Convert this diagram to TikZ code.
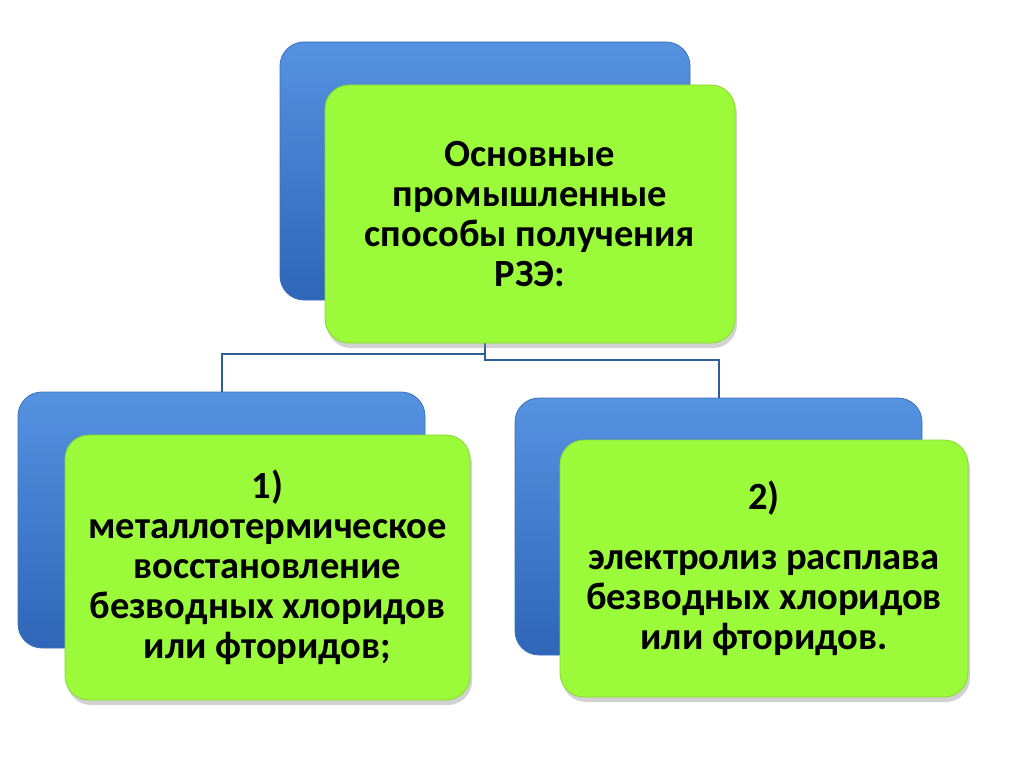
\documentclass[tikz,border=0pt]{standalone}
\usepackage{fontspec}
\setmainfont{Carlito}
\usetikzlibrary{shadows}
\definecolor{bluetop}{HTML}{5592E0}
\definecolor{bluebot}{HTML}{2F66B8}
\definecolor{blueedge}{HTML}{3A70BE}
\definecolor{limefill}{HTML}{9BFA3A}
\definecolor{limeedge}{HTML}{86D92E}
\definecolor{linkcol}{HTML}{2E5C98}
\tikzset{
  backbox/.style={draw=blueedge, line width=0.8pt, rounded corners=24pt,
    top color=bluetop, bottom color=bluebot, minimum width=#1},
  frontbox/.style={draw=limeedge, line width=0.8pt, rounded corners=24pt,
    fill=limefill, drop shadow={shadow xshift=2pt, shadow yshift=-5pt, opacity=0.35},
    align=center, font=\fontsize{38.5}{40}\selectfont\bfseries, text=black},
  link/.style={draw=linkcol, line width=2pt}
}
\begin{document}
\begin{tikzpicture}[x=1pt,y=-1pt]
\useasboundingbox[fill=white] (0,0) rectangle (1024,767);
% back (blue) boxes
\node[backbox=410pt, minimum height=258pt, inner sep=0pt] (tb) at (485,171) {};
\node[backbox=407pt, minimum height=256pt, inner sep=0pt] (lb) at (221.5,520) {};
\node[backbox=407pt, minimum height=257pt, inner sep=0pt] (rb) at (718.5,526.5) {};
% connectors
\draw[link] (tb.south) -- ++(0,54) -| (lb.north);
\draw[link] (tb.south) -- ++(0,60) -| (rb.north);
% front (green) boxes
\node[frontbox, minimum width=410pt, minimum height=258pt, inner sep=0pt] (tg) at (530,214)
  {Основные\\промышленные\\способы получения\\РЗЭ:};
\node[frontbox, minimum width=405pt, minimum height=265pt, inner sep=0pt] (lg) at (267.5,567.5)
  {1)\\металлотермическое\\восстановление\\безводных хлоридов\\или фторидов;};
\node[frontbox, minimum width=408pt, minimum height=257pt, inner sep=0pt] (rg) at (764,568.5)
  {2)\\[20pt]электролиз расплава\\безводных хлоридов\\или фторидов.};
\end{tikzpicture}
\end{document}
